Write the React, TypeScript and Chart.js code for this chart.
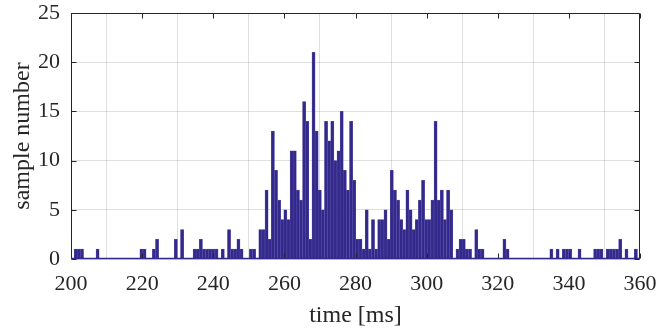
import React, { useEffect, useRef } from "react";
import { Chart, registerables } from "chart.js";

Chart.register(...registerables);

// Histogram definition (bin edges start at 200 ms, bin width)
const binStart = 200;
const binWidth = 0.88;

// Counts per bin
const counts: number[] = [
  0, 1, 1, 1, 0, 0, 0, 0, 1, 0,
  0, 0, 0, 0, 0, 0, 0, 0, 0, 0,
  0, 0, 1, 1, 0, 0, 1, 2, 0, 0,
  0, 0, 0, 2, 0, 3, 0, 0, 0, 1,
  1, 2, 1, 1, 1, 1, 1, 0, 1, 0,
  3, 1, 1, 2, 1, 0, 0, 1, 1, 0,
  3, 3, 7, 2, 13, 9, 6, 4, 5, 4,
  11, 11, 7, 6, 16, 14, 2, 21, 13, 7,
  5, 14, 12, 14, 10, 11, 15, 9, 7, 14,
  8, 2, 2, 1, 5, 1, 4, 1, 4, 4,
  5, 2, 9, 7, 6, 4, 3, 7, 5, 3,
  4, 6, 8, 4, 4, 6, 14, 6, 7, 4,
  7, 5, 0, 1, 2, 2, 1, 1, 0, 3,
  1, 1, 0, 0, 0, 0, 0, 0, 2, 1,
  0, 0, 0, 0, 0, 0, 0, 0, 0, 0,
  0, 0, 0, 1, 0, 1, 0, 1, 1, 1,
  0, 0, 1, 0, 0, 0, 0, 1, 1, 1,
  0, 1, 1, 1, 1, 2, 0, 1, 0, 0,
  1, 0,
];

const xTicks = [200, 220, 240, 260, 280, 300, 320, 340, 360];
const yTicks = [0, 5, 10, 15, 20, 25];
const xLabel = "time [ms]";
const yLabel = "sample number";

const BAR_COLOR = "#33298a";
const EDGE_COLOR = "#5d55ad";
const AXIS_COLOR = "#262626";
const FONT = "'Liberation Serif', 'Times New Roman', serif";

const boxPlugin = {
  id: "matlabBox",
  afterDatasetsDraw(chart: any) {
    const { ctx, chartArea, scales } = chart;
    const { left, right, top, bottom } = chartArea;
    const xs = scales.x;
    const ys = scales.y;
    ctx.save();
    const y0 = ys.getPixelForValue(0);
    const xStart = xs.getPixelForValue(binStart);
    const xEnd = Math.min(
      right,
      xs.getPixelForValue(binStart + counts.length * binWidth)
    );
    ctx.strokeStyle = AXIS_COLOR;
    ctx.lineWidth = 1;
    const l = Math.round(left) + 0.5;
    const r = Math.round(right) - 0.5;
    const t = Math.round(top) + 0.5;
    const b = Math.round(bottom) - 0.5;
    ctx.beginPath();
    ctx.moveTo(l, t);
    ctx.lineTo(r, t);
    ctx.lineTo(r, b);
    ctx.lineTo(l, b);
    ctx.closePath();
    ctx.stroke();
    const tl = 5;
    ctx.beginPath();
    xTicks.forEach((v) => {
      const px = Math.round(xs.getPixelForValue(v)) + 0.5;
      ctx.moveTo(px, b);
      ctx.lineTo(px, b - tl);
      ctx.moveTo(px, t);
      ctx.lineTo(px, t + tl);
    });
    yTicks.forEach((v) => {
      const py = Math.round(ys.getPixelForValue(v)) + 0.5;
      ctx.moveTo(l, py);
      ctx.lineTo(l + tl, py);
      ctx.moveTo(r, py);
      ctx.lineTo(r - tl, py);
    });
    ctx.stroke();
    ctx.strokeStyle = BAR_COLOR;
    ctx.lineWidth = 1.5;
    ctx.beginPath();
    ctx.moveTo(xStart, y0 - 0.5);
    ctx.lineTo(xEnd, y0 - 0.5);
    ctx.stroke();
    ctx.restore();
  },
};

const zeroPad = (s: any) => {
  s.paddingTop = 0;
  s.paddingBottom = 0;
  s.paddingLeft = 0;
  s.paddingRight = 0;
};

export default function App() {
  const ref = useRef<HTMLCanvasElement | null>(null);

  useEffect(() => {
    document.body.style.margin = "0";
    const canvas = ref.current;
    if (!canvas) return;
    const data = counts.map((c, i) => ({
      x: binStart + (i + 0.5) * binWidth,
      y: c,
    }));
    const chart = new Chart(canvas, {
      type: "bar",
      data: {
        datasets: [
          {
            data: data as any,
            backgroundColor: BAR_COLOR,
            borderColor: EDGE_COLOR,
            borderWidth: 0.5,
            barPercentage: 1,
            categoryPercentage: 1,
          },
        ],
      },
      options: {
        animation: false,
        responsive: false,
        maintainAspectRatio: false,
        devicePixelRatio: 1,
        layout: { padding: { top: 13, right: 18, left: 0, bottom: 0 } },
        plugins: {
          legend: { display: false },
          tooltip: { enabled: false },
        },
        scales: {
          x: {
            type: "linear",
            min: 200,
            max: 360,
            offset: false,
            afterBuildTicks: (s: any) => {
              s.ticks = xTicks.map((v) => ({ value: v }));
            },
            afterFit: (s: any) => {
              s.height = 74;
              zeroPad(s);
            },
            ticks: {
              autoSkip: false,
              maxRotation: 0,
              padding: 12,
              color: AXIS_COLOR,
              font: { family: FONT, size: 22 },
            },
            grid: {
              color: "rgba(38,38,38,0.15)",
              drawTicks: false,
            },
            border: { display: false },
            title: {
              display: true,
              text: xLabel,
              color: AXIS_COLOR,
              font: { family: FONT, size: 24 },
              padding: { top: 0, bottom: 3 },
            },
          },
          y: {
            type: "linear",
            min: 0,
            max: 25,
            afterBuildTicks: (s: any) => {
              s.ticks = yTicks.map((v) => ({ value: v }));
            },
            afterFit: (s: any) => {
              s.width = 71;
              zeroPad(s);
            },
            ticks: {
              padding: 11,
              color: AXIS_COLOR,
              font: { family: FONT, size: 22 },
            },
            grid: {
              color: "rgba(38,38,38,0.15)",
              drawTicks: false,
            },
            border: { display: false },
            title: {
              display: true,
              text: yLabel,
              color: AXIS_COLOR,
              font: { family: FONT, size: 24 },
              padding: { top: 8, bottom: 0 },
            },
          },
        },
      },
      plugins: [boxPlugin],
    });
    return () => chart.destroy();
  }, []);

  return (
    <div style={{ position: "fixed", left: 0, top: 0, width: 658, height: 333 }}>
      <canvas ref={ref} width={658} height={333} style={{ display: "block" }} />
    </div>
  );
}
